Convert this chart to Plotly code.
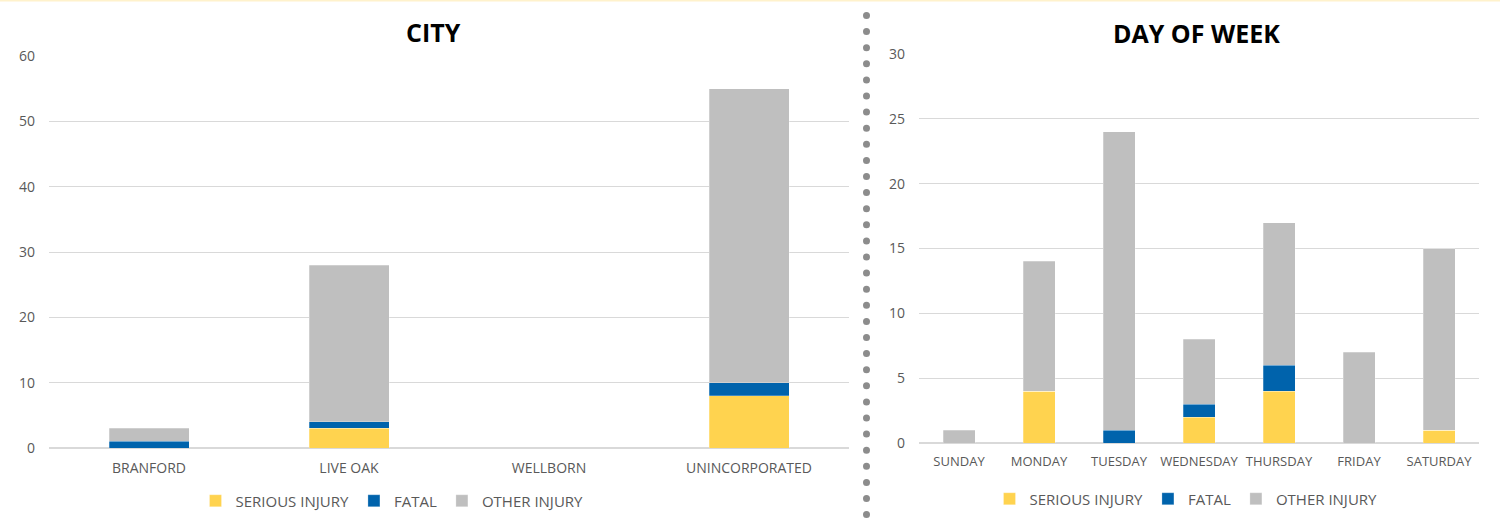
import plotly.graph_objects as go

# ---- data ----
cities = ["BRANFORD", "LIVE OAK", "WELLBORN", "UNINCORPORATED"]
city_serious = [0, 3, 0, 8]
city_fatal = [1, 1, 0, 2]
city_other = [2, 24, 0, 45]

days = ["SUNDAY", "MONDAY", "TUESDAY", "WEDNESDAY", "THURSDAY", "FRIDAY", "SATURDAY"]
day_serious = [0, 4, 0, 2, 4, 0, 1]
day_fatal = [0, 0, 1, 1, 2, 0, 0]
day_other = [1, 10, 23, 5, 11, 7, 14]

series_names = ["SERIOUS INJURY", "FATAL", "OTHER INJURY"]
colors = ["#FFD34F", "#0063AC", "#BFBFBF"]

W, H = 1500, 529
FONT = "Open Sans"
TXT = "#595959"

fig = go.Figure()

for name, vals, col in zip(series_names, [city_serious, city_fatal, city_other], colors):
    fig.add_trace(go.Bar(x=cities, y=vals, name=name, marker_color=col,
                         marker_line=dict(color="rgba(255,255,255,0.5)", width=0.5),
                         xaxis="x", yaxis="y", legend="legend"))
for name, vals, col in zip(series_names, [day_serious, day_fatal, day_other], colors):
    fig.add_trace(go.Bar(x=days, y=vals, name=name, marker_color=col,
                         marker_line=dict(color="rgba(255,255,255,0.5)", width=0.5),
                         xaxis="x2", yaxis="y2", legend="legend2"))

def px_x(p):
    return p / W

def px_y(p):
    return 1 - p / H

axis_common = dict(showline=False, ticks="", fixedrange=True, automargin=False)

legend_common = dict(orientation="h", xanchor="center", yanchor="middle",
                     xref="container", yref="container",
                     font=dict(family=FONT, size=15, color=TXT), itemwidth=30,
                     bgcolor="rgba(0,0,0,0)", traceorder="normal")

fig.update_layout(
    width=W, height=H,
    margin=dict(l=0, r=0, t=0, b=0, autoexpand=False),
    paper_bgcolor="white", plot_bgcolor="white",
    barmode="stack", bargap=0.6,
    font=dict(family=FONT, color=TXT),
    xaxis=dict(domain=[px_x(49), px_x(849)], anchor="y", showgrid=False,
               zeroline=False, ticklabelstandoff=10,
               tickfont=dict(family=FONT, size=14, color=TXT), **axis_common),
    yaxis=dict(domain=[px_y(448), px_y(56)], anchor="x", range=[0, 60], dtick=10,
               showgrid=True, gridcolor="#D9D9D9", gridwidth=1,
               zeroline=True, zerolinecolor="#D9D9D9", zerolinewidth=2,
               ticklabelstandoff=13,
               tickfont=dict(family=FONT, size=14, color=TXT), **axis_common),
    xaxis2=dict(domain=[px_x(919), px_x(1479)], anchor="y2", showgrid=False,
                zeroline=False, ticklabelstandoff=9,
                tickfont=dict(family=FONT, size=13, color=TXT), **axis_common),
    yaxis2=dict(domain=[px_y(443), px_y(54)], anchor="x2", range=[0, 30], dtick=5,
                showgrid=True, gridcolor="#D9D9D9", gridwidth=1,
                zeroline=True, zerolinecolor="#D9D9D9", zerolinewidth=2,
                ticklabelstandoff=13,
                tickfont=dict(family=FONT, size=14, color=TXT), **axis_common),
    legend=dict(x=px_x(392), y=px_y(501), **legend_common),
    legend2=dict(x=px_x(1186), y=px_y(499), **legend_common),
    annotations=[
        dict(text="<b>CITY</b>", x=px_x(433), y=px_y(32), xref="paper", yref="paper",
             showarrow=False, xanchor="center", yanchor="middle",
             font=dict(family=FONT, size=25, color="#000000")),
        dict(text="<b>DAY OF WEEK</b>", x=px_x(1196), y=px_y(33), xref="paper", yref="paper",
             showarrow=False, xanchor="center", yanchor="middle",
             font=dict(family=FONT, size=25, color="#000000")),
    ],
)

# decorative top border line
shapes = [dict(type="rect", xref="paper", yref="paper", x0=0, x1=1, y0=px_y(1.5), y1=1,
               fillcolor="#FFF2CC", line=dict(width=0), layer="below")]
# dotted separator
r = 3.5
cx = 866.5
y = 15.5
while y <= 516:
    shapes.append(dict(type="circle", xref="paper", yref="paper",
                       x0=px_x(cx - r), x1=px_x(cx + r), y0=px_y(y + r), y1=px_y(y - r),
                       fillcolor="#8C8C8C", line=dict(width=0)))
    y += 16.1
fig.update_layout(shapes=shapes)

fig.write_html("out.html", config={"displayModeBar": False},
               post_script="document.body.style.margin='0';document.body.style.overflow='hidden';")
